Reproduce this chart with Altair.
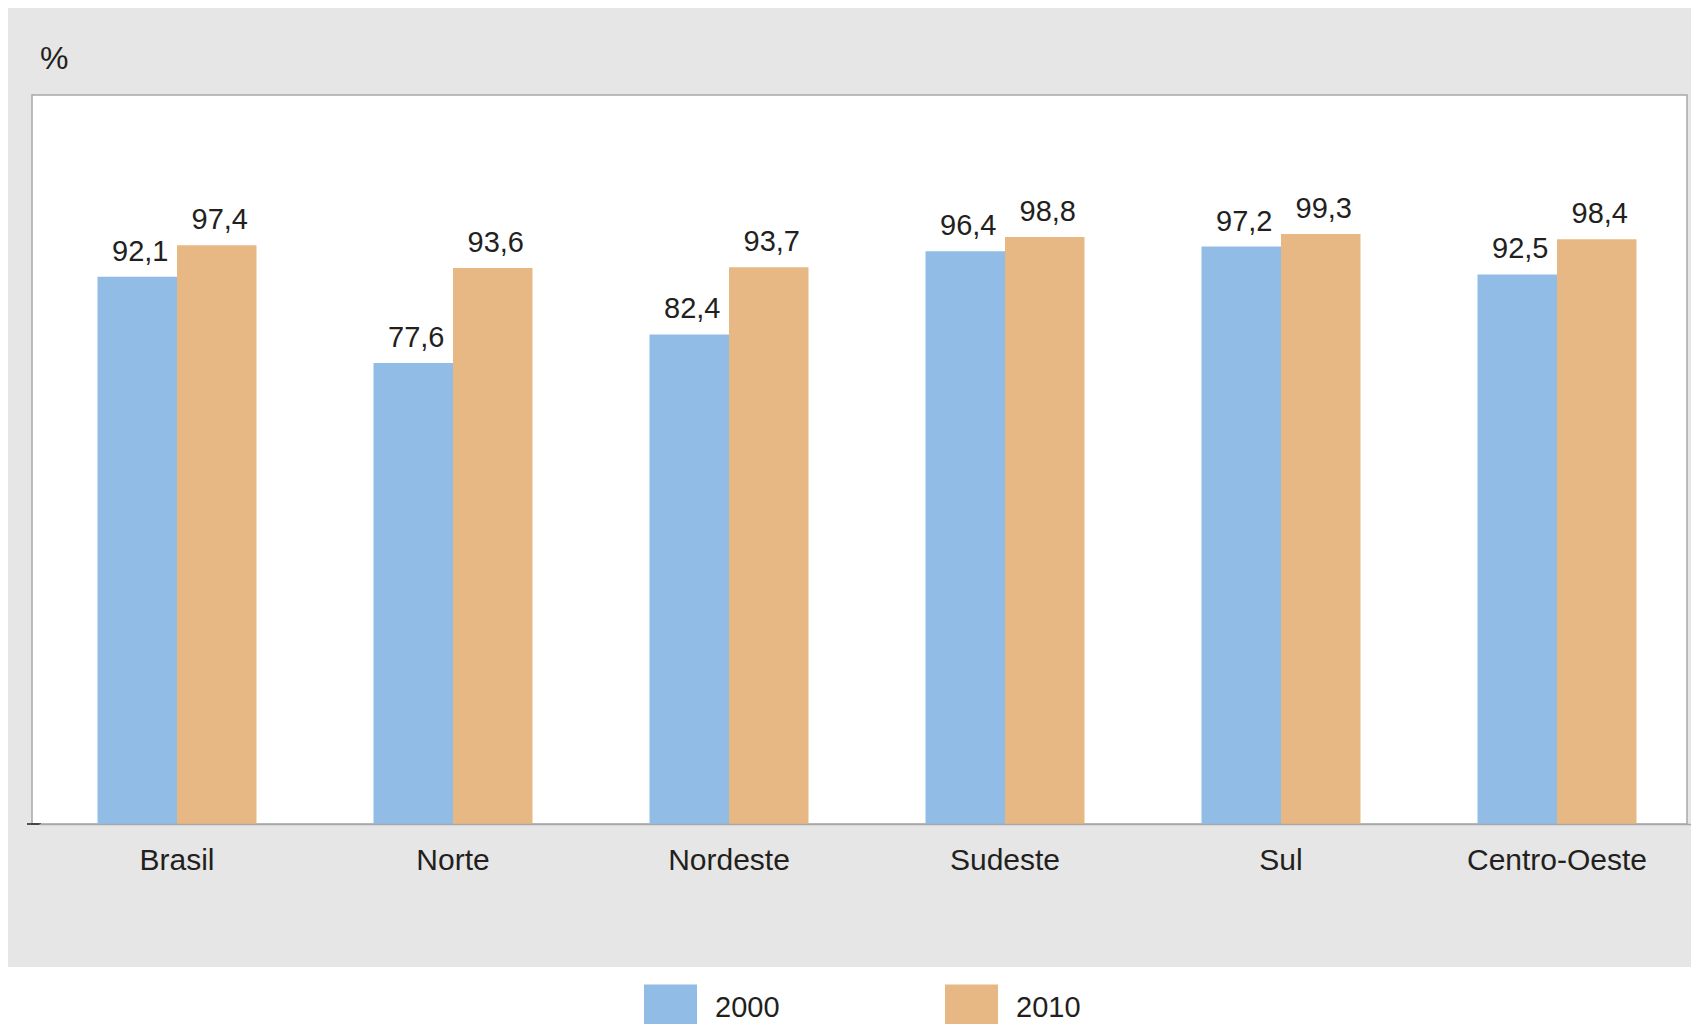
import altair as alt
import pandas as pd

regions = ["Brasil", "Norte", "Nordeste", "Sudeste", "Sul", "Centro-Oeste"]
years = ["2000", "2010"]
values_2000 = [92.1, 77.6, 82.4, 96.4, 97.2, 92.5]
values_2010 = [97.4, 93.6, 93.7, 98.8, 99.3, 98.4]
unit_label = "%"

rows = []
for r, a, b in zip(regions, values_2000, values_2010):
    rows.append({"region": r, "year": "2000", "value": a, "label": f"{a:.1f}".replace(".", ",")})
    rows.append({"region": r, "year": "2010", "value": b, "label": f"{b:.1f}".replace(".", ",")})
df = pd.DataFrame(rows)
one = pd.DataFrame({"k": [0]})

FONT = "Liberation Sans"
TXT = "#231f20"
BLUE = "#91bce6"
ORANGE = "#e8b884"
GRAY = "#e5e6e5"
FRAME = "#a8a8a8"

W, H = 1655, 729

x_enc = alt.X(
    "region:N", sort=regions, title=None,
    scale=alt.Scale(range=[7, 1663], paddingInner=0, paddingOuter=0),
    axis=alt.Axis(labelAngle=0, ticks=False, tickSize=0, domain=True, domainColor=FRAME,
                  domainWidth=1.5, labelPadding=21, labelFontSize=30, labelFont=FONT,
                  labelColor=TXT, labelLimit=0, zindex=1, grid=False),
)
xo_enc = alt.XOffset("year:N", sort=years, scale=alt.Scale(paddingOuter=0.736, paddingInner=0))
y_enc = alt.Y("value:Q", scale=alt.Scale(domain=[0, 122.7], nice=False, zero=True), axis=None)

panel = alt.Chart(one).mark_rect(color=GRAY).encode(
    x=alt.value(-24), x2=alt.value(W + 4), y=alt.value(-87), y2=alt.value(H + 143)
)
frame = alt.Chart(one).mark_rect(fill="white", stroke=FRAME, strokeWidth=1.5).encode(
    x=alt.value(0), x2=alt.value(W), y=alt.value(0), y2=alt.value(H)
)

bars = alt.Chart(df).mark_bar(strokeWidth=0).encode(
    x=x_enc,
    xOffset=xo_enc,
    y=y_enc,
    color=alt.Color(
        "year:N", sort=years,
        scale=alt.Scale(domain=years, range=[BLUE, ORANGE]),
        legend=alt.Legend(
            title=None, orient="none", legendX=612, legendY=886.5, direction="horizontal",
            symbolType="M-1,-0.9H1V0.9H-1Z", symbolSize=2809, symbolStrokeWidth=0,
            symbolOpacity=1, labelFontSize=29, labelFont=FONT, labelColor=TXT,
            labelOffset=18, columnPadding=165, padding=0,
        ),
    ),
)

labels = alt.Chart(df).mark_text(
    baseline="alphabetic", align="center", dy=-16, dx=3, fontSize=29, font=FONT, color=TXT
).encode(x=x_enc, xOffset=xo_enc, y=y_enc, text="label:N")

unit = alt.Chart(one).mark_text(
    align="left", baseline="middle", fontSize=32, font=FONT, color=TXT
).encode(x=alt.value(8), y=alt.value(-36), text=alt.value(unit_label))

tick = alt.Chart(one).mark_rule(color=TXT, strokeWidth=1.5).encode(
    x=alt.value(-5), x2=alt.value(9), y=alt.value(H)
)

chart = alt.layer(panel, frame, bars, labels, unit, tick).properties(
    width=W, height=H,
    autosize=alt.AutoSizeParams(type="none"),
    padding={"left": 24, "top": 87, "right": 4, "bottom": 200},
).configure(background="white").configure_view(stroke=None)

chart.save("out.html", embed_options={"renderer": "svg", "actions": False})
